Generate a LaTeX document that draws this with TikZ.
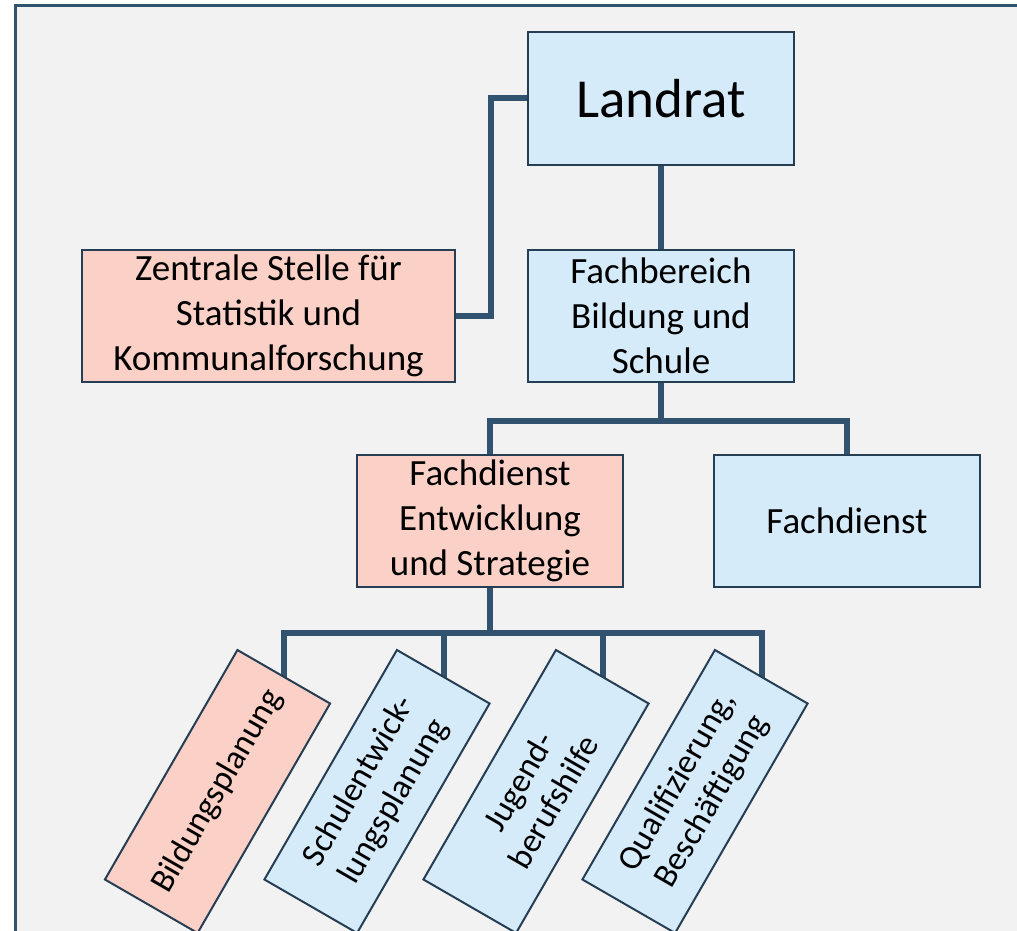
\documentclass[tikz,border=0pt]{standalone}
\usepackage{fontspec}
\setmainfont{Carlito}
\usepackage{tikz}

\definecolor{framebg}{RGB}{242,242,242}
\definecolor{boxblue}{RGB}{214,235,250}
\definecolor{boxred}{RGB}{251,208,198}
\definecolor{linecol}{RGB}{50,83,112}
\definecolor{edgecol}{RGB}{38,62,84}

\pgfdeclarelayer{frame}
\pgfdeclarelayer{lines}
\pgfsetlayers{frame,lines,main}

\begin{document}
\begin{tikzpicture}[x=1pt,y=1pt,
  unit/.style={draw=edgecol,line width=2pt,minimum width=266pt,minimum height=132pt,
    inner sep=0pt,align=center,font=\fontsize{37}{45}\selectfont},
  staff/.style={unit,fill=boxred},
  dept/.style={unit,fill=boxblue},
  team/.style={draw=edgecol,line width=2pt,minimum width=265pt,minimum height=107pt,
    inner sep=0pt,align=center,rotate=60,font=\fontsize{34}{40}\selectfont},
  link/.style={draw=linecol,line width=6pt}]

\useasboundingbox (0,0) rectangle (1017,-931);
\clip (0,0) rectangle (1017,-931);

\begin{pgfonlayer}{frame}
\filldraw[draw=linecol,fill=framebg,line width=3pt] (15,-6) rectangle (1040,-960);
\end{pgfonlayer}

\node[dept,minimum height=133pt,font=\fontsize{55}{60}\selectfont] (landrat) at (661,-98.5) {Landrat};
\node[staff,minimum width=373pt] (zentrale) at (268.5,-316) {Zentrale Stelle für\\Statistik und\\Kommunalforschung};
\node[dept] (fachbereich) at (661,-316) {Fachbereich\\Bildung und\\Schule};
\node[staff] (entwicklung) at (490,-521) {Fachdienst\\Entwicklung\\und Strategie};
\node[dept] (fachdienst) at (847,-521) {Fachdienst};

\node[team,fill=boxred] (bildung) at (217.5,-791.5) {Bildungsplanung};
\node[team,fill=boxblue] (schule) at (377,-791.5) {Schulentwick-\\lungsplanung};
\node[team,fill=boxblue] (jugend) at (536,-791.5) {Jugend-\\berufshilfe};
\node[team,fill=boxblue] (quali) at (695,-791.5) {Qualifizierung,\\Beschäftigung};

\begin{pgfonlayer}{lines}
\draw[link] (landrat.west) -- ++(-36,0) |- (zentrale.east);
\draw[link] (landrat.south) -- (fachbereich.north);
\draw[link] (fachbereich.south) -- ++(0,-38) coordinate (split);
\draw[link] (entwicklung.north) |- (split) -| (fachdienst.north);
\draw[link] (entwicklung.south) -- ++(0,-45) coordinate (bus);
\draw[link,shorten <=-4pt,shorten >=-4pt] (bildung.east) |- (bus) -| (quali.east);
\draw[link,shorten >=-4pt] (schule.east |- bus) -- (schule.east);
\draw[link,shorten >=-4pt] (jugend.east |- bus) -- (jugend.east);
\end{pgfonlayer}

\end{tikzpicture}
\end{document}
